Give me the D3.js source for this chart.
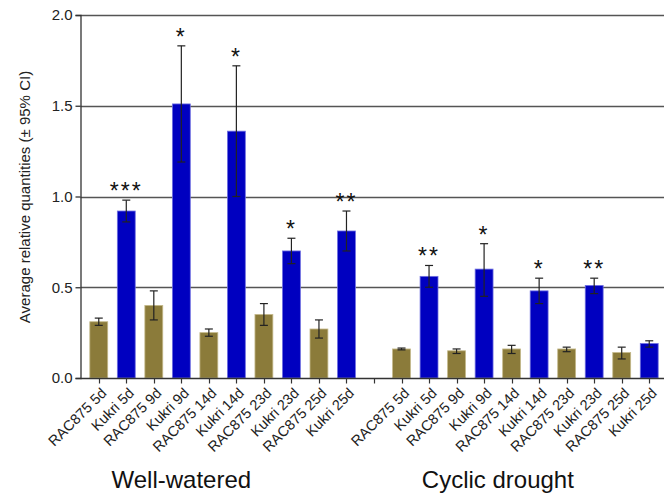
<!DOCTYPE html>
<html>
<head>
<meta charset="utf-8">
<script src="https://cdn.jsdelivr.net/npm/d3@7"></script>
<style>
  html, body { margin: 0; padding: 0; background: #fff; }
  svg { display: block; font-family: "Liberation Sans", Arial, sans-serif; }
</style>
</head>
<body>
<svg id="chart" width="664" height="495"></svg>
<script>
// ---- data ----
const groups = ["Well-watered", "Cyclic drought"];
const samples = ["RAC875 5d", "Kukri 5d", "RAC875 9d", "Kukri 9d", "RAC875 14d", "Kukri 14d",
                 "RAC875 23d", "Kukri 23d", "RAC875 25d", "Kukri 25d"];
const cultivar = ["RAC875", "Kukri", "RAC875", "Kukri", "RAC875", "Kukri", "RAC875", "Kukri", "RAC875", "Kukri"];

const wellValues = [0.31, 0.92, 0.40, 1.51, 0.25, 1.36, 0.35, 0.70, 0.27, 0.81];
const wellLower  = [0.29, 0.86, 0.32, 1.19, 0.23, 1.00, 0.29, 0.63, 0.22, 0.70];
const wellUpper  = [0.33, 0.98, 0.48, 1.83, 0.27, 1.72, 0.41, 0.77, 0.32, 0.92];
const wellStars  = ["", "***", "", "*", "", "*", "", "*", "", "**"];

const droughtValues = [0.16, 0.56, 0.15, 0.60, 0.16, 0.48, 0.16, 0.51, 0.14, 0.19];
const droughtLower  = [0.155, 0.50, 0.135, 0.45, 0.135, 0.41, 0.145, 0.465, 0.105, 0.17];
const droughtUpper  = [0.165, 0.62, 0.16, 0.74, 0.18, 0.55, 0.17, 0.55, 0.17, 0.205];
const droughtStars  = ["", "**", "", "*", "", "*", "", "**", "", ""];

const yTicks = [0, 0.5, 1.0, 1.5, 2.0];
const yLabel = "Average relative quantities (\u00b1 95% CI)";

// ---- build rows ----
const rows = [];
samples.forEach((s, i) => rows.push({key: "W|" + s, label: s, cult: cultivar[i], v: wellValues[i], lo: wellLower[i], hi: wellUpper[i], star: wellStars[i]}));
const gapKey = "gap";
samples.forEach((s, i) => rows.push({key: "D|" + s, label: s, cult: cultivar[i], v: droughtValues[i], lo: droughtLower[i], hi: droughtUpper[i], star: droughtStars[i]}));
const domain = rows.slice(0, 10).map(d => d.key).concat([gapKey]).concat(rows.slice(10).map(d => d.key));

const colors = {RAC875: "#8b7b3a", Kukri: "#0000c0"};
const strokes = {RAC875: "#c4b98a", Kukri: "#6f6fe0"};

const svg = d3.select("#chart");
const axisX = 80.5, plotTop = 15, plotBottom = 378;

const x = d3.scaleBand().domain(domain).range([85, 663]).paddingInner(0.35).paddingOuter(0.175);
const y = d3.scaleLinear().domain([0, 2]).range([plotBottom, plotTop]);
const cx = k => x(k) + x.bandwidth() / 2;

// gridlines
svg.append("g").selectAll("line").data(yTicks.filter(t => t > 0)).join("line")
  .attr("x1", axisX).attr("x2", 664)
  .attr("y1", d => Math.round(y(d)) + 0.5).attr("y2", d => Math.round(y(d)) + 0.5)
  .attr("stroke", "#555").attr("stroke-width", 1.3);

// bars
svg.append("g").selectAll("rect").data(rows).join("rect")
  .attr("x", d => x(d.key)).attr("width", x.bandwidth())
  .attr("y", d => y(d.v)).attr("height", d => y(0) - y(d.v))
  .attr("fill", d => colors[d.cult]).attr("stroke", d => strokes[d.cult]).attr("stroke-width", 0.8);

// error bars
const eb = svg.append("g").attr("stroke", "#222").attr("stroke-width", 1.2);
eb.selectAll("line.v").data(rows).join("line").attr("class", "v")
  .attr("x1", d => cx(d.key)).attr("x2", d => cx(d.key))
  .attr("y1", d => y(d.lo)).attr("y2", d => y(d.hi));
eb.selectAll("line.t").data(rows).join("line").attr("class", "t")
  .attr("x1", d => cx(d.key) - 4).attr("x2", d => cx(d.key) + 4)
  .attr("y1", d => y(d.hi)).attr("y2", d => y(d.hi));
eb.selectAll("line.b").data(rows).join("line").attr("class", "b")
  .attr("x1", d => cx(d.key) - 4).attr("x2", d => cx(d.key) + 4)
  .attr("y1", d => y(d.lo)).attr("y2", d => y(d.lo));

// significance stars
svg.append("g").selectAll("text").data(rows.filter(d => d.star)).join("text")
  .attr("x", d => cx(d.key)).attr("y", d => y(d.hi) - 1)
  .attr("text-anchor", "middle").attr("font-size", 23).attr("fill", "#111")
  .attr("letter-spacing", 2)
  .text(d => d.star);

// y axis
const yAxis = svg.append("g").attr("transform", `translate(${axisX},0)`)
  .call(d3.axisLeft(y).tickValues(yTicks).tickFormat(d3.format(".1f")).tickSize(5).tickPadding(3));
yAxis.select(".domain").attr("stroke", "#333").attr("stroke-width", 1.3);
yAxis.selectAll(".tick line").attr("stroke", "#333").attr("stroke-width", 1.3);
yAxis.selectAll(".tick text").attr("font-size", 15).attr("fill", "#222")
  .attr("font-family", "'Liberation Sans', Arial, sans-serif");

// x axis
const xAxis = svg.append("g").attr("transform", `translate(0,${plotBottom + 0.5})`);
xAxis.append("line").attr("x1", axisX).attr("x2", 664).attr("stroke", "#333").attr("stroke-width", 1.3);
xAxis.selectAll("line.tk").data(domain).join("line").attr("class", "tk")
  .attr("x1", d => Math.round(cx(d)) + 0.5).attr("x2", d => Math.round(cx(d)) + 0.5)
  .attr("y1", 0).attr("y2", 5).attr("stroke", "#333").attr("stroke-width", 1.2);
xAxis.selectAll("text").data(rows).join("text")
  .attr("transform", d => `translate(${cx(d.key) + 5},${12}) rotate(-45)`)
  .attr("text-anchor", "end").attr("dy", "0.35em")
  .attr("font-size", 14.5).attr("fill", "#222")
  .text(d => d.label);

// group labels
const leftC = cx(domain[3]);
const rightC = (cx(domain[14]) + cx(domain[15])) / 2;
svg.append("g").selectAll("text").data(groups).join("text")
  .attr("x", (d, i) => i === 0 ? leftC : rightC).attr("y", 488)
  .attr("text-anchor", "middle").attr("font-size", 24).attr("fill", "#111")
  .text(d => d);

// y label
svg.append("text").attr("transform", `translate(25,197) rotate(-90)`)
  .attr("text-anchor", "middle").attr("dy", "0.35em").attr("font-size", 15).attr("fill", "#222")
  .text(yLabel);
</script>
</body>
</html>
